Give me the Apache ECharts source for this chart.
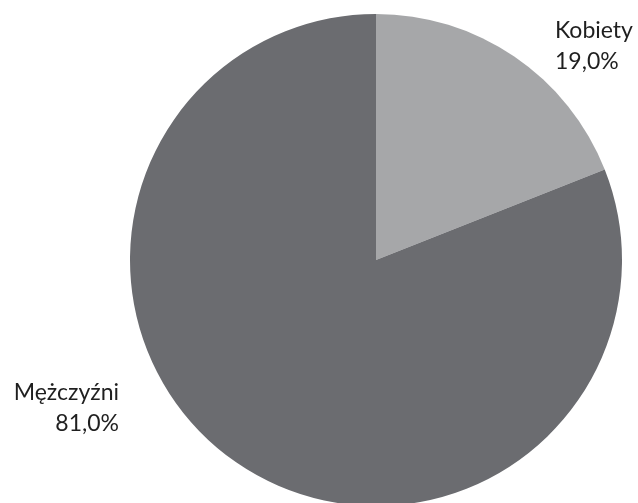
<!DOCTYPE html>
<html><head><meta charset="utf-8">
<script src="https://cdn.jsdelivr.net/npm/echarts@6/dist/echarts.min.js"></script>
<style>html,body{margin:0;padding:0;background:#fff}#c{width:638px;height:503px}</style>
</head><body><div id="c"></div>
<script>
const categories = ['Kobiety', 'Mężczyźni'];
const values = [19.0, 81.0];
const colors = ['#a6a7a9', '#6b6c70'];
const labelSpots = [{x: 555, y: 15, align: 'left'}, {x: 119, y: 377, align: 'right'}];

const chart = echarts.init(document.getElementById('c'), null, {renderer: 'canvas'});
chart.setOption({
  animation: false,
  series: [{
    type: 'pie',
    center: [376, 260],
    radius: 246,
    startAngle: 90,
    clockwise: true,
    data: categories.map((n, i) => ({name: n, value: values[i], itemStyle: {color: colors[i]}})),
    label: {
      show: true,
      position: 'outside',
      overflow: 'none',
      formatter: p => p.name + '\n' + p.value.toFixed(1).replace('.', ',') + '%',
      fontFamily: 'Lato',
      fontSize: 23,
      lineHeight: 31,
      color: '#1f1f1f'
    },
    labelLine: {show: false},
    labelLayout: p => {
      const s = labelSpots[p.dataIndex];
      return {x: s.x, y: s.y, align: s.align, verticalAlign: 'top'};
    },
    emphasis: {disabled: true}
  }]
});
</script></body></html>
